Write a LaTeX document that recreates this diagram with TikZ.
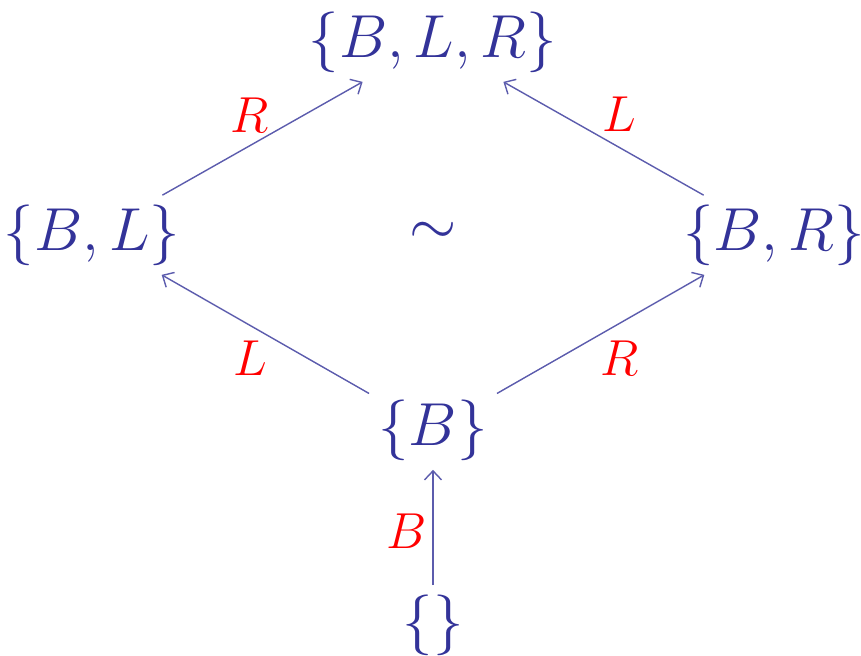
\documentclass[tikz,border=0pt]{standalone}
\usepackage{amsmath,amssymb}
\usepackage{tikz}
\usetikzlibrary{arrows.meta,positioning}
\definecolor{setblue}{rgb}{0.2,0.2,0.6}

\begin{document}
\begin{tikzpicture}[every node/.style={font=\fontsize{16}{19}\selectfont},
  setnode/.style={text=setblue, inner sep=2.5pt},
  lbl/.style={text=red, font=\fontsize{13.5}{16}\selectfont},
  arr/.style={-{Straight Barb[length=0.9mm,width=1.7mm]}, setblue!80, line width=0.4pt}]
  \useasboundingbox (0,0) rectangle (8.61,6.55);

  \node[setnode] (blr) at (4.33,6.13) {$\{B,L,R\}$};
  \node[setnode] (bl)  at (0.92,4.20) {$\{B,L\}$};
  \node[setnode] (br)  at (7.74,4.20) {$\{B,R\}$};
  \node[setnode] (sim) at (4.33,4.22) {$\sim$};
  \node[setnode] (b)   at (4.33,2.25) {$\{B\}$};
  \node[setnode] (e)   at (4.33,0.30) {$\{\}$};

  % edge labels
  \node[lbl] (ul) at (2.50,5.40) {$R$};
  \node[lbl] (ur) at (6.19,5.41) {$L$};
  \node[lbl] (ll) at (2.50,2.97) {$L$};
  \node[lbl] (lr) at (6.20,2.97) {$R$};
  \node[lbl] (lb) at (4.07,1.24) {$B$};

  \draw[arr] (e) -- (b);
  \draw[arr] (b) -- (bl);
  \draw[arr] (b) -- (br);
  \draw[arr] (bl) -- (blr);
  \draw[arr] (br) -- (blr);
\end{tikzpicture}
\end{document}
